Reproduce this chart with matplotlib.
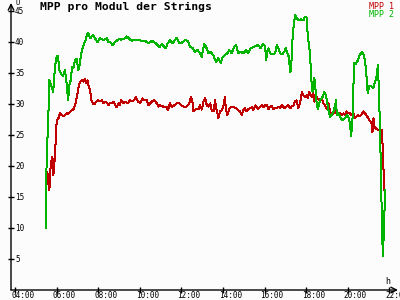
import matplotlib
matplotlib.use('Agg')
import matplotlib.pyplot as plt

# time in hours, voltage in V
t1 = [5.54, 5.59, 5.64, 5.67, 5.72, 5.77, 5.80, 5.83, 5.88, 5.93, 5.96, 6.02, 6.09, 6.15, 6.24,
      6.31, 6.39, 6.48, 6.55, 6.63, 6.72, 6.79, 6.86, 6.92, 6.99, 7.05, 7.12, 7.20, 7.28, 7.34,
      7.41, 7.47, 7.54, 7.60, 7.66, 7.73, 7.82, 7.89, 7.98, 8.08, 8.18, 8.24, 8.34, 8.40, 8.50,
      8.56, 8.66, 8.72, 8.82, 8.88, 8.98, 9.04, 9.09, 9.20, 9.32, 9.41, 9.52, 9.61, 9.73, 9.81,
      9.90, 10.01, 10.12, 10.21, 10.33, 10.41, 10.49, 10.57, 10.70, 10.81, 10.89, 10.97, 11.05,
      11.18, 11.29, 11.34, 11.45, 11.53, 11.66, 11.77, 11.89, 11.98, 12.09, 12.21, 12.30, 12.37,
      12.46, 12.55, 12.57, 12.66, 12.70, 12.82, 12.90, 12.98, 13.06, 13.14, 13.22, 13.30, 13.38,
      13.46, 13.54, 13.62, 13.67, 13.73, 13.78, 13.86, 13.94, 14.02, 14.09, 14.15, 14.21, 14.31,
      14.42, 14.53, 14.63, 14.74, 14.82, 14.90, 14.98, 15.06, 15.14, 15.22, 15.31, 15.40, 15.46,
      15.56, 15.63, 15.70, 15.79, 15.87, 15.95, 16.03, 16.11, 16.19, 16.27, 16.35, 16.43, 16.51,
      16.59, 16.67, 16.75, 16.83, 16.91, 16.99, 17.07, 17.15, 17.23, 17.31, 17.40, 17.47, 17.55,
      17.63, 17.71, 17.80, 17.87, 17.95, 18.04, 18.08, 18.15, 18.21, 18.28, 18.35, 18.40, 18.47,
      18.52, 18.60, 18.68, 18.76, 18.84, 18.92, 19.00, 19.08, 19.16, 19.24, 19.32, 19.40, 19.48,
      19.56, 19.64, 19.72, 19.80, 19.88, 19.96, 20.04, 20.12, 20.20, 20.28, 20.36, 20.44, 20.52,
      20.60, 20.69, 20.77, 20.85, 20.93, 21.01, 21.09, 21.17, 21.20, 21.25, 21.29, 21.36, 21.46,
      21.52, 21.58, 21.65, 21.70, 21.73, 21.76, 21.81]
mpp1 = [19.1, 17.2, 16.1, 18.9, 20.4, 21.5, 21.0, 18.5, 20.4, 23.1, 26.3, 27.4, 27.8, 28.5, 28.2,
        28.0, 28.2, 28.6, 28.4, 28.7, 29.0, 29.1, 29.7, 30.4, 31.7, 32.8, 33.6, 33.9, 33.6, 34.0,
        33.4, 33.8, 32.8, 32.3, 30.6, 30.1, 30.0, 30.4, 30.6, 30.4, 30.6, 30.1, 30.4, 30.2, 29.8,
        30.2, 30.1, 30.4, 29.8, 29.5, 30.1, 29.8, 30.6, 30.2, 30.4, 30.1, 30.6, 30.4, 30.7, 31.1,
        30.4, 30.2, 30.9, 30.6, 30.7, 29.8, 30.1, 30.4, 30.6, 30.1, 29.6, 29.8, 29.7,
        29.5, 29.5, 29.0, 30.1, 29.5, 29.8, 30.1, 30.2, 29.8, 29.6, 29.5, 29.8, 30.1,
        31.2, 30.1, 28.9, 29.0, 29.2, 29.2, 29.8, 29.1, 30.4, 31.0, 29.8, 29.6, 30.1,
        29.0, 28.8, 30.6, 29.3, 28.5, 27.7, 28.8, 29.0, 29.6, 31.1, 29.0, 28.2, 29.3,
        29.6, 29.5, 29.3, 29.0, 28.8, 28.2, 29.0, 29.3, 28.8, 29.2, 29.3, 29.5, 29.0,
        29.8, 29.5, 29.2, 29.6, 29.8, 29.5, 29.8, 29.9, 29.2, 29.6, 29.7, 29.2, 29.4,
        29.3, 29.6, 29.4, 29.8, 29.5, 29.3, 29.7, 29.8, 29.3, 29.6, 29.8, 30.4, 30.6,
        29.3, 30.1, 31.9, 31.4, 31.2, 31.4, 30.9, 32.0, 31.4, 31.2, 31.9, 30.4, 31.6,
        31.0, 30.8, 30.6, 30.8, 30.1, 29.8, 29.2, 30.1, 28.7, 28.2, 28.5, 28.8, 28.5,
        28.2, 28.5, 28.2, 28.5, 28.2, 28.8, 28.5, 28.5, 28.2, 28.5, 27.7, 28.0, 28.2,
        28.0, 28.4, 28.8, 28.5, 28.0, 27.7, 27.2, 26.9, 25.5, 27.7, 26.4, 26.1, 25.8,
        25.8, 25.8, 25.8, 22.6, 19.4, 16.7, 15.0]

t2 = [5.48, 5.50, 5.54, 5.59, 5.64, 5.70, 5.75, 5.82, 5.91, 5.99, 6.05, 6.12, 6.19, 6.28, 6.35,
      6.39, 6.48, 6.54, 6.60, 6.67, 6.73, 6.79, 6.88, 6.96, 7.03, 7.08, 7.15, 7.21, 7.31, 7.37,
      7.44, 7.50, 7.60, 7.68, 7.76, 7.84, 7.95, 8.08, 8.24, 8.40, 8.48, 8.60, 8.69, 8.80, 8.91,
      9.04, 9.09, 9.28, 9.37, 9.52, 9.61, 9.68, 9.80, 9.92, 10.09, 10.25, 10.41, 10.57, 10.73,
      10.86, 10.94, 11.05, 11.13, 11.24, 11.34, 11.45, 11.56, 11.66, 11.77, 11.89, 12.02, 12.17,
      12.30, 12.42, 12.55, 12.66, 12.77, 12.90, 12.98, 13.09, 13.19, 13.30, 13.41, 13.54, 13.67,
      13.78, 13.89, 13.99, 14.10, 14.21, 14.31, 14.42, 14.53, 14.63, 14.74, 14.86, 14.98, 15.11,
      15.22, 15.34, 15.46, 15.59, 15.70, 15.82, 15.92, 16.03, 16.08, 16.14, 16.19, 16.27, 16.38,
      16.51, 16.59, 16.67, 16.75, 16.86, 16.96, 17.03, 17.12, 17.18, 17.23, 17.28, 17.34, 17.39,
      17.47, 17.56, 17.63, 17.76, 17.87, 17.95, 18.04, 18.08, 18.15, 18.20, 18.24, 18.31, 18.35,
      18.40, 18.47, 18.52, 18.57, 18.68, 18.79, 18.88, 18.95, 19.01, 19.08, 19.16, 19.24, 19.32,
      19.40, 19.45, 19.48, 19.56, 19.64, 19.75, 19.85, 19.96, 20.04, 20.12, 20.17, 20.23, 20.28,
      20.30, 20.40, 20.49, 20.56, 20.65, 20.71, 20.78, 20.84, 20.93, 20.97, 21.04, 21.13, 21.24,
      21.33, 21.41, 21.46, 21.49, 21.52, 21.57, 21.60, 21.65, 21.68, 21.71, 21.73, 21.76, 21.78,
      21.81]
mpp2 = [10.0, 19.7, 23.9, 28.2, 33.9, 33.3, 32.8, 31.9, 36.0, 37.7, 37.8, 35.5, 35.0, 34.5, 35.0,
        35.5, 33.0, 30.6, 33.0, 33.9, 36.0, 35.8, 37.1, 37.3, 35.5, 36.0, 37.6, 38.7, 39.8, 40.1,
        41.1, 41.5, 40.6, 40.9, 41.1, 40.6, 40.0, 40.6, 40.3, 40.6, 40.0, 39.9, 39.5, 40.0, 40.3,
        40.5, 40.4, 40.6, 40.9, 40.4, 40.2, 40.4, 40.3, 40.4, 40.2, 40.2, 39.8, 40.2, 39.9,
        39.5, 39.2, 39.7, 39.4, 39.0, 39.8, 40.3, 39.8, 40.2, 40.7, 39.8, 39.9, 40.3,
        40.2, 39.2, 39.0, 38.4, 38.7, 38.2, 37.6, 39.7, 39.2, 38.2, 38.4, 37.8, 36.8,
        37.4, 36.6, 37.6, 37.9, 38.2, 38.7, 38.2, 39.2, 39.5, 38.2, 38.4, 38.2, 38.7,
        38.2, 39.0, 39.2, 39.4, 39.5, 39.0, 39.7, 39.3, 37.1, 38.6, 39.0, 38.2, 38.0,
        38.2, 39.5, 39.0, 38.2, 38.0, 38.5, 39.0, 38.0, 37.6, 35.2, 35.5, 40.0, 42.2,
        44.4, 43.9, 43.5, 43.7, 43.5, 44.1, 43.9, 41.1, 39.2, 38.0, 34.4, 32.0, 32.8,
        34.2, 31.9, 29.8, 29.2, 30.6, 31.1, 31.9, 31.5, 30.4, 29.0, 27.9, 28.2, 28.7,
        29.8, 30.6, 28.2, 28.5, 27.9, 27.4, 27.6, 28.2, 27.9, 26.9, 24.8, 26.9, 31.7,
        36.6, 36.5, 37.0, 37.7, 38.2, 38.4, 37.9, 37.1, 33.9, 31.7, 32.9, 32.9, 32.6,
        33.6, 34.7, 36.3, 33.9, 30.6, 25.8, 19.4, 11.8, 7.6, 5.4, 8.0, 8.5, 12.9,
        16.1]

xticks = [4, 6, 8, 10, 12, 14, 16, 18, 20, 22]
xticklabels = ['04:00', '06:00', '08:00', '10:00', '12:00', '14:00', '16:00', '18:00', '20:00', '22:00']
yticks = [5, 10, 15, 20, 25, 30, 35, 40, 45]

red = '#c00000'
green = '#00b400'
mono = 'DejaVu Sans Mono'

fig = plt.figure(figsize=(4, 3), dpi=100, facecolor='#fcfcfc')
ax = fig.add_axes([11/400, 10/300, 387/400, 287/300])
ax.set_facecolor('#fcfcfc')

ax.plot(t1, mpp1, color=red, lw=0.72, antialiased=False)
ax.plot(t2, mpp2, color=green, lw=0.72, antialiased=False)

ax.set_xlim(3.79, 22.43)
ax.set_ylim(0, 46.3)
for s in ['top', 'right', 'left', 'bottom']:
    ax.spines[s].set_visible(False)

# axes with arrows
ax.annotate('', xy=(0, 1.0), xytext=(0, 0), xycoords='axes fraction',
            arrowprops=dict(arrowstyle='->', lw=1, color='black', shrinkA=0, shrinkB=0))
ax.annotate('', xy=(1.0, 0), xytext=(0, 0), xycoords='axes fraction',
            arrowprops=dict(arrowstyle='->', lw=1, color='black', shrinkA=0, shrinkB=0))

ax.set_xticks(xticks)
ax.set_yticks(yticks)
ax.set_xticklabels([])
ax.set_yticklabels([])
ax.tick_params(direction='inout', length=5, width=1)

for v in yticks:
    ax.annotate(str(v), xy=(0, v), xycoords=ax.get_yaxis_transform(), xytext=(4, 0),
                textcoords='offset pixels', ha='left', va='center', fontsize=5.5, family=mono)
for v, lab in zip(xticks, xticklabels):
    ax.annotate(lab, xy=(v, 0), xycoords=ax.get_xaxis_transform(), xytext=(-4, -8),
                textcoords='offset pixels', ha='left', va='baseline', fontsize=5.5, family=mono)

fig.text(16/400, 1 - 0/300, 'U', ha='left', va='top', fontsize=5, family=mono)
fig.text(385/400, 1 - 277/300, 'h', ha='left', va='top', fontsize=6, family=mono)

fig.text(40/400, 1 - 2/300, 'MPP pro Modul der Strings', ha='left', va='top',
         fontsize=8.2, family=mono, fontweight='bold')
fig.text(394/400, 1 - 2/300, 'MPP 1', ha='right', va='top', fontsize=6, family=mono, color=red)
fig.text(394/400, 1 - 10/300, 'MPP 2', ha='right', va='top', fontsize=6, family=mono, color=green)

fig.savefig('out.png', dpi=100, facecolor=fig.get_facecolor())
